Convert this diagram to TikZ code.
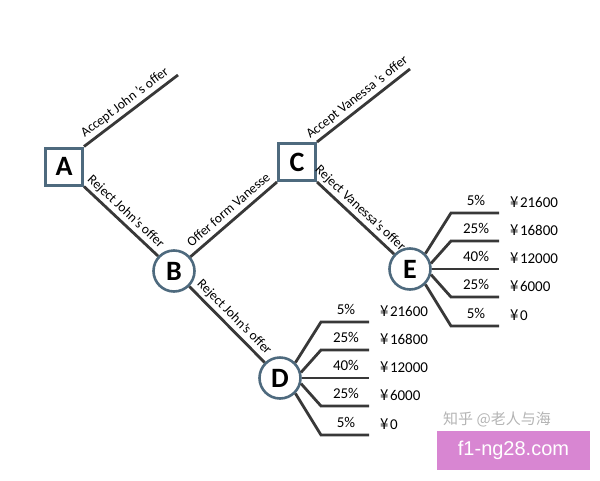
\documentclass[tikz,border=0pt]{standalone}
\usepackage{fontspec}
\setmainfont{Carlito}
\newfontfamily\cjk{Noto Sans CJK SC}
\newfontfamily\wmfont{Liberation Sans}
\usetikzlibrary{calc}
\definecolor{nodeblue}{HTML}{4E6A7E}
\definecolor{linegray}{HTML}{383838}
\definecolor{wmpink}{HTML}{D886D2}
\definecolor{wmgray}{HTML}{B4B4B4}
\begin{document}
\begin{tikzpicture}[x=1pt,y=-1pt,
  boxnode/.style={draw=nodeblue, line width=3pt, fill=white, minimum size=37pt, inner sep=0pt, font=\bfseries\fontsize{28}{28}\selectfont},
  chancenode/.style={circle, draw=nodeblue, line width=2.6pt, fill=white, minimum size=41pt, inner sep=0pt, font=\bfseries\fontsize{28}{28}\selectfont},
  branch/.style={draw=linegray, line width=2.8pt},
  lbl/.style={font=\fontsize{13.5}{13.5}\selectfont, sloped, above, inner sep=0pt, outer sep=0pt, text depth=0pt, yshift=6.5pt, pos=0.5},
  pct/.style={font=\fontsize{15}{15}\selectfont, inner sep=0pt},
  val/.style={font=\fontsize{15}{15}\selectfont, anchor=west, inner sep=0pt},
]
\useasboundingbox (0,0) rectangle (600,480);

\node[boxnode] (A) at (64,166.5) {A};
\node[boxnode] (C) at (297,162) {C};
\node[chancenode] (B) at (174,271) {B};
\node[chancenode] (D) at (280,378) {D};
\node[chancenode] (E) at (410,269) {E};
\coordinate (aj) at (178,75);
\coordinate (av) at (410,69);

\draw[branch] (A.north east) -- node[lbl]{Accept John 's offer} (aj);
\draw[branch] (A.south east) -- node[lbl,pos=0.47]{Reject John’s offer} (B);
\draw[branch] (B) -- node[lbl,pos=0.52]{Offer form Vanesse} (C.south west);
\draw[branch] (C.north east) -- node[lbl]{Accept Vanessa 's offer} (av);
\draw[branch] (C.south east) -- node[lbl,pos=0.47]{Reject Vanessa’s offer} (E);
\draw[branch] (B) -- node[lbl,pos=0.5]{Reject John’s offer} (D);

\foreach \nd in {D,E} {
  \foreach \n/\ang/\dy/\p/\v in {1/45/-56/5\%/21600, 2/15/-28/25\%/16800, 3/0/0/40\%/12000, 4/-15/28/25\%/6000, 5/-45/57/5\%/0} {
    \coordinate (\nd\n a) at ($(\nd)+(41,\dy)$);
    \coordinate (\nd\n b) at ($(\nd)+(89,\dy)$);
    \draw[branch] (\nd.\ang) -- (\nd\n a) -- (\nd\n b);
    \node[pct] (\nd\n p) at ($(\nd)+(66,\dy-13)$) {\p};
    \node[val] (\nd\n v) at ($(\nd)+(100,\dy-11)$) {{\cjk ¥}\kern1.5pt\v};
  }
}

\node[font=\cjk\fontsize{15}{15}\selectfont, text=wmgray] (wm) at (497,419) {知乎 @老人与海};
\node[fill=wmpink, minimum width=153pt, minimum height=39pt, inner sep=0pt, text=white, font=\wmfont\fontsize{20}{20}\selectfont] (wmbox) at (513.5,450.5) {f1-ng28.com};
\end{tikzpicture}
\end{document}
